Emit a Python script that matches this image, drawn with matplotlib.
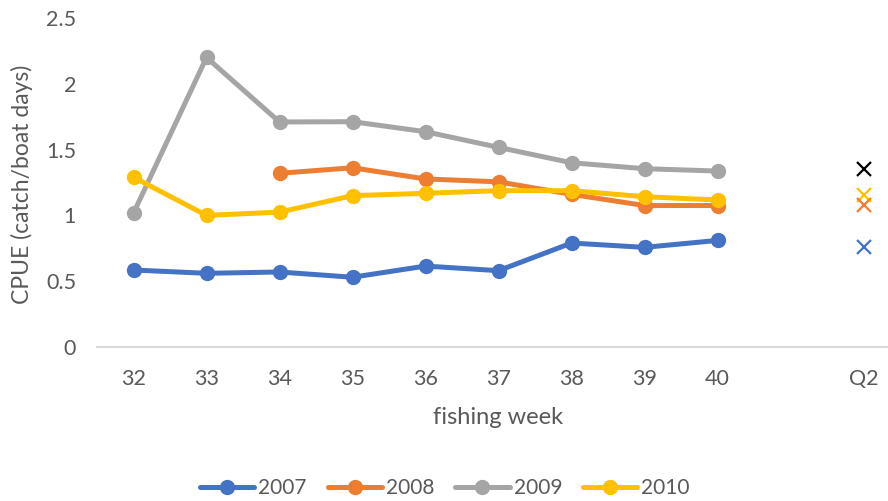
import matplotlib
matplotlib.use('Agg')
import matplotlib.pyplot as plt
import numpy as np

plt.rcParams['font.family'] = ['Lato', 'DejaVu Sans']

# categories along the x axis (blank slot before Q2)
weeks = ['32', '33', '34', '35', '36', '37', '38', '39', '40', '', 'Q2']

# CPUE per fishing week, weeks 32..40 (None = no data)
cpue_2007 = [0.585, 0.56, 0.57, 0.53, 0.615, 0.58, 0.79, 0.757, 0.81]
cpue_2008 = [None, None, 1.32, 1.362, 1.277, 1.255, 1.16, 1.075, 1.075]
cpue_2009 = [1.018, 2.20, 1.71, 1.712, 1.636, 1.517, 1.40, 1.355, 1.337]
cpue_2010 = [1.29, 1.0, 1.025, 1.15, 1.168, 1.188, 1.188, 1.142, 1.117]

# Q2 values (crosses)
q2_values = [1.355, 1.155, 1.08, 0.757]
q2_colors = ['#000000', '#FFC000', '#ED7D31', '#4472C4']

series = [('2007', cpue_2007, '#4472C4'),
          ('2008', cpue_2008, '#ED7D31'),
          ('2009', cpue_2009, '#A5A5A5'),
          ('2010', cpue_2010, '#FFC000')]

text_col = '#595959'

fig = plt.figure(figsize=(8.88, 5.01), dpi=100)
# plot area runs a bit past the right edge, like the original
ax = fig.add_axes([97 / 888, 154 / 501, 803 / 888, 329 / 501])

for name, vals, col in series:
    x = [i for i, v in enumerate(vals) if v is not None]
    y = [v for v in vals if v is not None]
    ax.plot(x, y, '-o', color=col, lw=3.6, ms=10, label=name,
            solid_capstyle='round', solid_joinstyle='round')

q2_pos = weeks.index('Q2')
for v, col in zip(q2_values, q2_colors):
    ax.plot(q2_pos, v, 'x', color=col, ms=10, mew=1.6)

ax.set_xlim(-0.5, len(weeks) - 0.5)
ax.set_ylim(0, 2.5)
ax.set_xticks(range(len(weeks)))
ax.set_xticklabels(weeks)
ax.set_yticks([0, 0.5, 1, 1.5, 2, 2.5])
ax.set_yticklabels(['0', '0.5', '1', '1.5', '2', '2.5'])

for s in ['top', 'right', 'left']:
    ax.spines[s].set_visible(False)
ax.spines['bottom'].set_color('#D9D9D9')
ax.spines['bottom'].set_linewidth(1.5)
ax.tick_params(axis='both', length=0, labelsize=15.5, colors=text_col)
ax.tick_params(axis='x', pad=16)
ax.tick_params(axis='y', pad=15)

ax.set_xlabel('fishing week', fontsize=17, color=text_col, labelpad=13)
fig.text(22 / 888, 1 - 184 / 501, 'CPUE (catch/boat days)', rotation=90,
         ha='center', va='center', fontsize=16.5, color=text_col)

leg = fig.legend(loc='center', bbox_to_anchor=(445 / 888, 1 - 488 / 501), ncol=4,
                 frameon=False, fontsize=15, handlelength=2.6, handletextpad=0.2,
                 columnspacing=1.0)
for t in leg.get_texts():
    t.set_color(text_col)

fig.savefig('out.png', dpi=100)
